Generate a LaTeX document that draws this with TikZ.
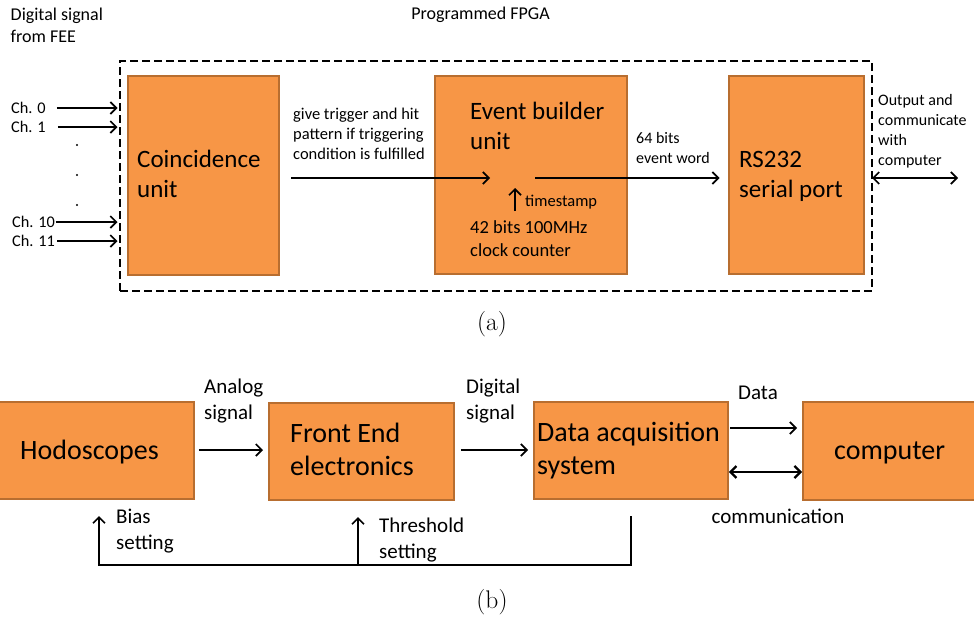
\documentclass[tikz,border=0pt]{standalone}
\usepackage{fontspec}
\newfontfamily\calfont{Carlito}
\usetikzlibrary{arrows.meta}
\definecolor{boxfill}{HTML}{F79646}
\definecolor{boxline}{HTML}{B86E30}
\tikzset{
  unitbox/.style={draw=boxline, fill=boxfill, line width=1.8pt, inner sep=0pt, anchor=north west},
  frame/.style={draw=black, dash pattern=on 8pt off 4pt, line width=2.4pt, inner sep=0pt, anchor=north west},
  % multi-line texts are placed by the baseline of their last line
  txt/.style={inner sep=0pt, anchor=base west, align=left, text=black},
  bigtop/.style={txt, font=\calfont\fontsize{25}{30}\selectfont},
  bigbot/.style={txt, font=\calfont\fontsize{28}{33}\selectfont},
  small/.style={txt, font=\calfont\fontsize{16.5}{20}\selectfont},
  medium/.style={txt, font=\calfont\fontsize{18.5}{23.5}\selectfont},
  toplbl/.style={txt, font=\calfont\fontsize{18}{22.7}\selectfont},
  botlbl/.style={txt, font=\calfont\fontsize{21}{26}\selectfont},
  chlbl/.style={inner sep=0pt, anchor=west, font=\calfont\fontsize{16.3}{19}\selectfont},
  caption/.style={inner sep=0pt, anchor=base, font=\fontsize{25.5}{30}\selectfont},
  barb/.style={Straight Barb[length=6pt,width=12pt,line width=1.7pt]},
  arr/.style={-{Straight Barb[length=6pt,width=12pt,line width=1.7pt]}, line width=1.7pt},
  darr/.style={{Straight Barb[length=6pt,width=12pt,line width=1.7pt]}-{Straight Barb[length=6pt,width=12pt,line width=1.7pt]}, line width=1.7pt},
  thickdarr/.style={{Straight Barb[length=6pt,width=12pt,line width=2.3pt]}-{Straight Barb[length=6pt,width=12pt,line width=2.3pt]}, line width=2.7pt},
}
\begin{document}
\begin{tikzpicture}[x=1pt,y=-1pt]
\useasboundingbox (0,0) rectangle (974,621);

% ---------- (a) programmed FPGA ----------
\node[toplbl] (fee) at (10.5,42.7) {Digital signal\\from FEE};
\node[toplbl, anchor=base] (fpgatitle) at (480.5,19.5) {Programmed FPGA};

\node[frame, minimum width=752pt, minimum height=230pt] (fpga) at (119,60) {};

\node[unitbox, minimum width=151pt, minimum height=199pt] (coinc) at (127,75) {};
\node[unitbox, minimum width=192pt, minimum height=198pt] (evb) at (434,75) {};
\node[unitbox, minimum width=135pt, minimum height=198pt] (rs) at (728,75) {};

\node[bigtop] (coinctext) at (137,197) {Coincidence\\unit};
\node[bigtop] (evbtext) at (470,149.5) {Event builder\\unit};
\node[medium] (clocktext) at (470,256.5) {42 bits 100MHz\\clock counter};
\node[small] (tstext) at (525,206.5) {timestamp};
\node[bigtop] (rstext) at (739,197.5) {RS232\\serial port};

% input channels
\node[chlbl] (ch0) at (11,108) {Ch. 0};
\node[chlbl] (ch1) at (11,127) {Ch. 1};
\node[chlbl] (ch10) at (12,222) {Ch. 10};
\node[chlbl] (ch11) at (12,241) {Ch. 11};
\draw[arr, shorten >=1.5pt] ([xshift=11pt]ch0.east) -- (ch0 -| fpga.west);
\draw[arr, shorten >=1.5pt] ([xshift=12pt]ch1.east) -- (ch1 -| fpga.west);
\draw[arr, shorten >=1.5pt] ([xshift=0.5pt]ch10.east) -- (ch10 -| fpga.west);
\draw[arr, shorten >=1.5pt] ([xshift=2pt]ch11.east) -- (ch11 -| fpga.west);
\fill (77,145) circle (1.1pt);
\fill (77,175) circle (1.1pt);
\fill (77,205) circle (1.1pt);

% trigger path through the event builder
\node[small] (trigtext) at (293,159.5) {give trigger and hit\\pattern if triggering\\condition is fulfilled};
\coordinate (trigtail) at (291,178);
\coordinate (trighead) at (490,178);
\draw[arr] (trigtail) -- (trighead);
\coordinate (tstail) at (515,211);
\coordinate (tshead) at (515,188);
\draw[arr] (tstail) -- (tshead);
\coordinate (wordtail) at (535,178);
\draw[arr, shorten >=8.5pt] (wordtail) -- (wordtail -| rs.west);
\node[small, font=\calfont\fontsize{16}{20}\selectfont] (wordtext) at (636,163.5) {64 bits\\event word};

% serial link to the computer
\coordinate (ioport) at (872,178);
\coordinate (iohost) at (958,178);
\draw[darr] (ioport) -- (iohost);
\node[small, font=\calfont\fontsize{16}{20}\selectfont] (iotext) at (878,165) {Output and\\communicate\\with\\computer};

\node[caption] (capa) at (492,330) {(a)};

% ---------- (b) readout chain ----------
\node[unitbox, minimum width=195pt, minimum height=97pt] (hodo) at (-2,401) {};
\node[unitbox, minimum width=185pt, minimum height=97pt] (fe) at (268,402) {};
\node[unitbox, minimum width=194pt, minimum height=97pt] (daq) at (533,401) {};
\node[unitbox, minimum width=180pt, minimum height=98pt] (comp) at (802,401) {};

\node[bigbot] (hodotext) at (20,459.5) {Hodoscopes};
\node[bigbot] (fetext) at (290,475) {Front End\\electronics};
\node[bigbot] (daqtext) at (537,474) {Data acquisition\\system};
\node[bigbot] (comptext) at (834,459.5) {computer};

\coordinate (sigrow) at (0,450);
\draw[arr] ([xshift=4pt]hodo.east |- sigrow) -- ([xshift=-5pt]fe.west |- sigrow);
\node[botlbl] (analogtext) at (204,419.5) {Analog\\signal};
\draw[arr] ([xshift=6pt]fe.east |- sigrow) -- ([xshift=-5pt]daq.west |- sigrow);
\node[botlbl] (digitaltext) at (466,419.5) {Digital\\signal};

\coordinate (dataout) at (730,428);
\draw[arr, shorten >=5pt] (dataout) -- (dataout -| comp.west);
\node[botlbl] (datatext) at (738,399.5) {Data};
\draw[thickdarr] (daq.east |- 0,472) -- (comp.west |- 0,472);
\node[botlbl] (commtext) at (711.5,523) {communication};

% settings fed back from the acquisition system
\coordinate (fbtop) at (631,516);
\coordinate (fbcorner) at (631,565);
\coordinate (fbleft) at (99,565);
\coordinate (biasin) at (99,516);
\coordinate (thrbase) at (358,565);
\coordinate (thrin) at (358,517);
\draw[arr] (fbtop) -- (fbcorner) -- (fbleft) -- (biasin);
\draw[arr] (thrbase) -- (thrin);
\node[botlbl] (biastext) at (116,549.5) {Bias\\setting};
\node[botlbl] (thrtext) at (379,558.5) {Threshold\\setting};

\node[caption] (capb) at (492,608.5) {(b)};
\end{tikzpicture}
\end{document}
